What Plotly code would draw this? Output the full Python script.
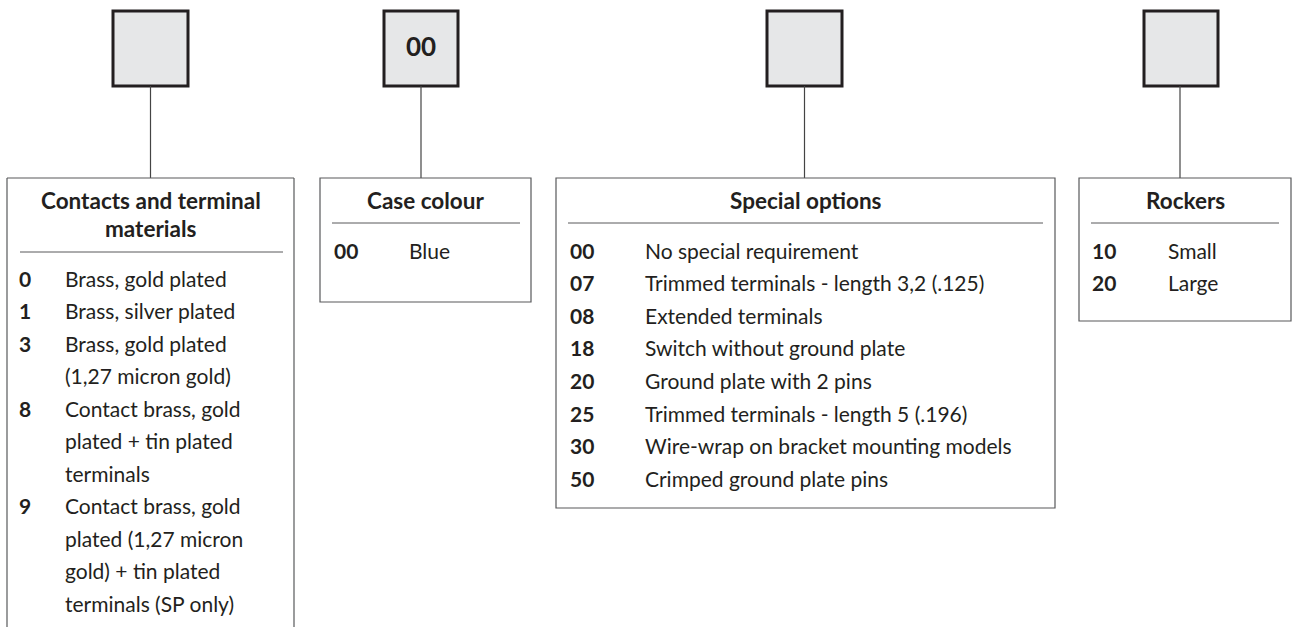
import plotly.graph_objects as go

W, H = 1295, 627
FONT = "Lato"
TEXT = "#231f20"
BORDER = "#58595b"

# ---- content ----
box1_title = ["Contacts and terminal", "materials"]
box1_codes = ["0", "1", "3", "8", "9"]
box1_desc = [
    ["Brass, gold plated"],
    ["Brass, silver plated"],
    ["Brass, gold plated", "(1,27 micron gold)"],
    ["Contact brass, gold", "plated + tin plated", "terminals"],
    ["Contact brass, gold", "plated (1,27 micron", "gold) + tin plated", "terminals (SP only)"],
]

box2_title = ["Case colour"]
box2_codes = ["00"]
box2_desc = [["Blue"]]
box2_square_text = "00"

box3_title = ["Special options"]
box3_codes = ["00", "07", "08", "18", "20", "25", "30", "50"]
box3_desc = [
    ["No special requirement"],
    ["Trimmed terminals - length 3,2 (.125)"],
    ["Extended terminals"],
    ["Switch without ground plate"],
    ["Ground plate with 2 pins"],
    ["Trimmed terminals - length 5 (.196)"],
    ["Wire-wrap on bracket mounting models"],
    ["Crimped ground plate pins"],
]

box4_title = ["Rockers"]
box4_codes = ["10", "20"]
box4_desc = [["Small"], ["Large"]]

# ---- layout geometry ----
groups = [
    dict(title=box1_title, codes=box1_codes, desc=box1_desc, sq=(113, 188), line_x=150.5,
         box=(7, 294, 178, None), sep=(20, 283, 252), title_y=[200, 228], tcx=151,
         code_x=17, desc_x=63, row0=278, step=32.5, sqtext=""),
    dict(title=box2_title, codes=box2_codes, desc=box2_desc, sq=(384, 458), line_x=421,
         box=(320, 531, 178, 302), sep=(332, 520, 223), title_y=[200], tcx=425,
         code_x=332, desc_x=407, row0=250, step=32.6, sqtext=box2_square_text),
    dict(title=box3_title, codes=box3_codes, desc=box3_desc, sq=(767, 842), line_x=804.5,
         box=(556, 1055, 178, 508), sep=(568, 1043, 223), title_y=[200], tcx=806,
         code_x=568, desc_x=643, row0=250, step=32.6, sqtext=""),
    dict(title=box4_title, codes=box4_codes, desc=box4_desc, sq=(1144, 1218), line_x=1180,
         box=(1079, 1291, 178, 321), sep=(1091, 1279, 223), title_y=[200], tcx=1185,
         code_x=1090, desc_x=1166, row0=250, step=32.3, sqtext=""),
]

fig = go.Figure()
shapes = []
annots = []

def line(x0, y0, x1, y1, color=BORDER, width=1.2):
    shapes.append(dict(type="line", xref="x", yref="y", x0=x0, y0=y0, x1=x1, y1=y1,
                       line=dict(color=color, width=width)))

def text(x, y, s, size=21, bold=False, anchor="left"):
    annots.append(dict(x=x, y=y, xref="x", yref="y", text=(f"<b>{s}</b>" if bold else s),
                       showarrow=False, xanchor=anchor, yanchor="middle",
                       font=dict(family=FONT, size=size, color=TEXT)))

for g in groups:
    sx0, sx1 = g["sq"]
    shapes.append(dict(type="rect", xref="x", yref="y", x0=sx0, x1=sx1, y0=11, y1=86,
                       fillcolor="#e6e7e8", line=dict(color=TEXT, width=3)))
    if g["sqtext"]:
        text((sx0 + sx1) / 2, 46, g["sqtext"], size=26, bold=True, anchor="center")
    bx0, bx1, by0, by1 = g["box"]
    line(g["line_x"], 86, g["line_x"], by0, color="#444444", width=1.2)
    if by1 is None:
        line(bx0, by0, bx1, by0)
        line(bx0, by0, bx0, H + 5)
        line(bx1, by0, bx1, H + 5)
    else:
        shapes.append(dict(type="rect", xref="x", yref="y", x0=bx0, x1=bx1, y0=by0, y1=by1,
                           line=dict(color=BORDER, width=1.2)))
    s0, s1, sy = g["sep"]
    line(s0, sy, s1, sy, width=1.0)
    for t, ty in zip(g["title"], g["title_y"]):
        text(g["tcx"], ty, t, size=22.5, bold=True, anchor="center")
    row = 0
    for code, desc in zip(g["codes"], g["desc"]):
        y = g["row0"] + row * g["step"]
        text(g["code_x"], y, code, size=21, bold=True)
        for i, d in enumerate(desc):
            text(g["desc_x"], g["row0"] + (row + i) * g["step"], d, size=21)
        row += len(desc)

fig.update_layout(
    width=W, height=H,
    margin=dict(l=0, r=0, t=0, b=0),
    paper_bgcolor="white", plot_bgcolor="white",
    xaxis=dict(range=[0, W], visible=False, fixedrange=True),
    yaxis=dict(range=[H, 0], visible=False, fixedrange=True),
    shapes=shapes, annotations=annots, showlegend=False,
)
fig.write_html(
    "out.html",
    config={"displayModeBar": False, "staticPlot": True},
    post_script="document.body.style.margin='0';document.body.style.overflow='hidden';",
)
